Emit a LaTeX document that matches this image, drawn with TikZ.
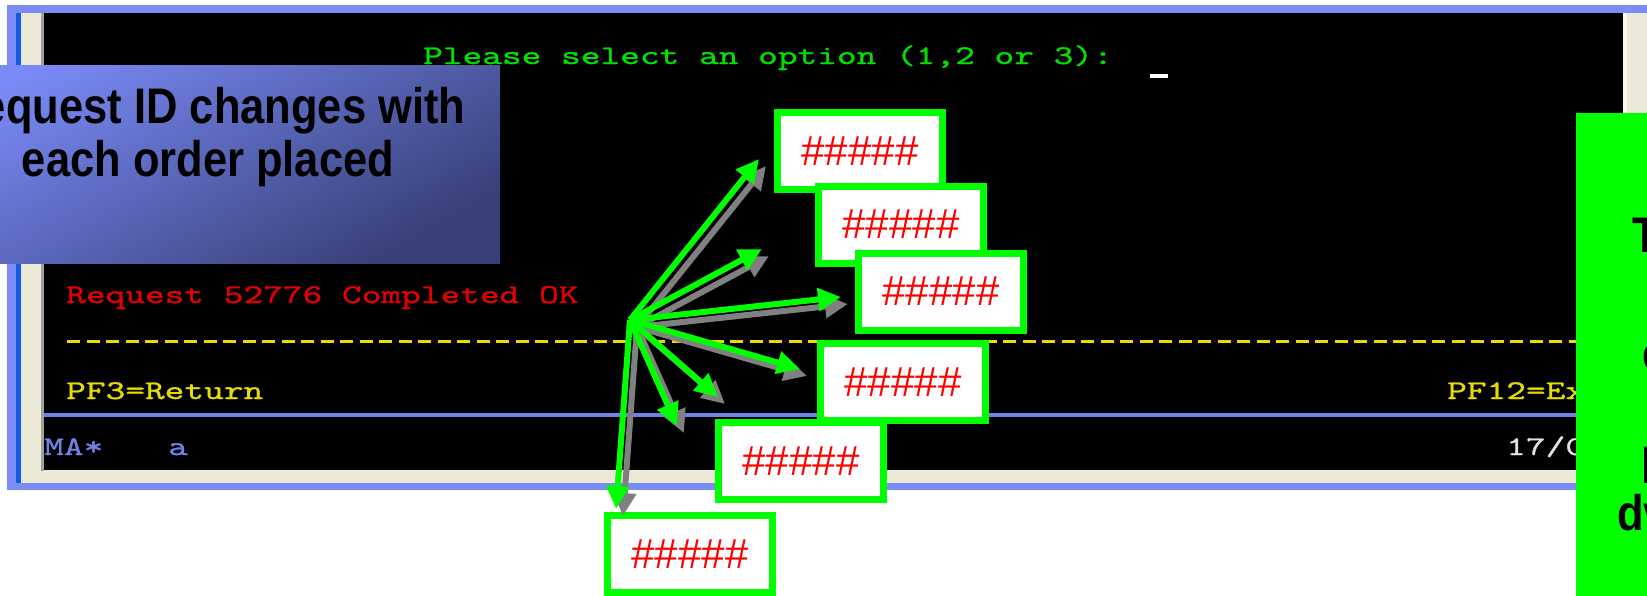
\documentclass[tikz,border=0pt]{standalone}
\usepackage{fontspec}
\usetikzlibrary{arrows.meta}
\newfontfamily\termfont{lmmono10-regular.otf}[FakeStretch=1.39,FakeBold=1]
\newfontfamily\narrowfont{Liberation Sans}[FakeStretch=0.87]
\newfontfamily\hashfont{Liberation Sans}
\definecolor{frameblue}{RGB}{124,140,245}
\definecolor{darkstripe}{RGB}{20,90,230}
\definecolor{beige}{RGB}{236,233,216}
\definecolor{edgegray}{RGB}{160,160,160}
\definecolor{termgreen}{RGB}{0,225,0}
\definecolor{termred}{RGB}{228,0,0}
\definecolor{termyellow}{RGB}{230,220,0}
\definecolor{termblue}{RGB}{110,130,230}
\definecolor{termwhite}{RGB}{225,225,225}
\definecolor{brightgreen}{RGB}{0,255,0}
\definecolor{shadowgray}{RGB}{128,128,128}
\definecolor{calloutlight}{RGB}{122,138,246}
\definecolor{calloutdark}{RGB}{56,64,120}
\begin{document}
\begin{tikzpicture}[x=1pt,y=-1pt,
  term/.style={inner sep=0pt, anchor=base west, font=\termfont\fontsize{27}{30}\selectfont},
  bigtext/.style={inner sep=0pt, font=\narrowfont\bfseries\fontsize{50}{53}\selectfont},
  hashbox/.style={draw=brightgreen, line width=7pt, fill=white, minimum width=165pt, minimum height=77pt, inner sep=0pt, text=red, font=\hashfont\fontsize{42}{42}\selectfont},
  shadowarrow/.style={draw=shadowgray, line width=6pt, -{Triangle[length=23pt,width=22pt]}},
  greenarrow/.style={draw=brightgreen, line width=6pt, -{Triangle[length=23pt,width=22pt]}}]
\useasboundingbox (0,0) rectangle (1647,595);
\fill[white] (0,0) rectangle (1647,595);
% window frame
\fill[frameblue] (7,5) rectangle (1660,490);
\fill[beige] (21,13) rectangle (1660,483);
\fill[darkstripe] (16,13) rectangle (21,483);
\fill[edgegray] (41,13) rectangle (44,471);
\fill[black] (44,13) rectangle (1623,470);
\fill[white!70!beige] (1623,13) rectangle (1627,470);
\fill[termblue] (44,413) rectangle (1623,417);
% terminal text
\node[term, text=termgreen] (please) at (423,64) {Please select an option (1,2 or 3):};
\fill[white] (1150,74) rectangle (1168,78);
\node[term, text=termred] (req) at (66,303) {Request 52776 Completed OK};
\draw[termyellow, line width=3pt, dash pattern=on 13pt off 6.5pt] (67,341.5) -- (1576,341.5);
\node[term, text=termyellow] (pf3) at (66,399) {PF3=Return};
\node[term, text=termyellow] (pf12) at (1447,399) {PF12=Ex};
\node[term, text=termblue] (ma) at (44,455) {MA*};
\node[term, text=termblue] (a) at (168,455) {a};
\node[term, text=termwhite] (date) at (1506,455) {17/0};
% callout
\shade[top color=calloutlight, bottom color=calloutdark, shading angle=30] (-84,65) rectangle (500,263);
\node[bigtext, align=center] (callout) at (208,137) {Request ID changes with\\each order placed};
% green panel at right
\fill[brightgreen] (1576,113) rectangle (1660,600);
\node[bigtext, anchor=base west] (g1) at (1632,252) {T};
\node[bigtext, anchor=base west] (g2) at (1642,370) {c};
\node[bigtext, anchor=base west] (g3) at (1641,483) {l};
\node[bigtext, anchor=base west] (g4) at (1617,530) {dv};
% boxes
\node[hashbox] (b1) at (860,151) {\#\#\#\#\#};
\node[hashbox] (b2) at (901,224.5) {\#\#\#\#\#};
\node[hashbox] (b3) at (941,291.5) {\#\#\#\#\#};
\node[hashbox] (b4) at (903,382) {\#\#\#\#\#};
\node[hashbox] (b5) at (801,461) {\#\#\#\#\#};
\node[hashbox] (b6) at (690,554) {\#\#\#\#\#};
% arrows
\coordinate (o) at (630,320);
\coordinate (t1) at (759,159);
\coordinate (t2) at (762,249);
\coordinate (t3) at (841,297);
\coordinate (t4) at (800,369);
\coordinate (t5) at (718,397);
\coordinate (t6) at (677,426);
\coordinate (t7) at (616,509);
\foreach \t in {t1,t2,t3,t4,t5,t6,t7}
  \draw[shadowarrow] ([shift={(7,7)}]o) -- ([shift={(7,7)}]\t);
\foreach \t in {t1,t2,t3,t4,t5,t6,t7}
  \draw[greenarrow] (o) -- (\t);
\end{tikzpicture}
\end{document}
